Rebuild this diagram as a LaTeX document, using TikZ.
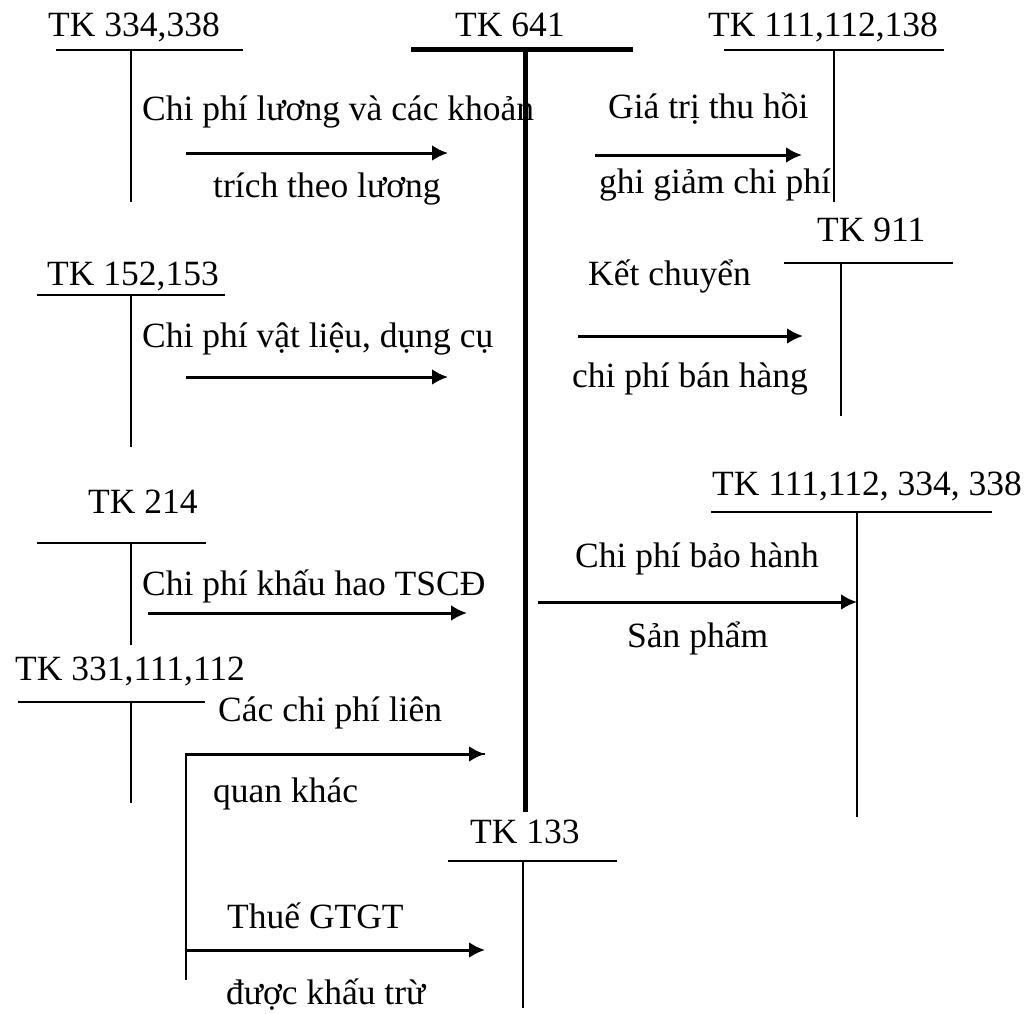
\documentclass[tikz,border=0pt]{standalone}
\usepackage{fontspec}
\setmainfont{Liberation Serif}
\usetikzlibrary{arrows.meta}
\begin{document}
\begin{tikzpicture}[x=1pt,y=-1pt,
    txt/.style={anchor=base west,inner sep=0pt,font=\fontsize{35.5}{42}\selectfont},
    tacc/.style={line width=1.3pt},
    mainacc/.style={line width=5pt},
    flow/.style={-{Latex[length=16pt,width=16pt]},line width=3pt}]
    \useasboundingbox (0,0) rectangle (1033,1014);
    % account headings
    \node[txt] (tk334) at (48,37) {TK 334,338};
    \node[txt] (tk641) at (455,37) {TK 641};
    \node[txt] (tk111a) at (708,37) {TK 111,112,138};
    \node[txt] (tk152) at (47,285) {TK 152,153};
    \node[txt] (tk911) at (817,241) {TK 911};
    \node[txt] (tk214) at (88,513) {TK 214};
    \node[txt] (tk331) at (15,680) {TK 331,111,112};
    \node[txt] (tk111b) at (712,495) {TK 111,112, 334, 338};
    \node[txt] (tk133) at (470,843) {TK 133};
    % T accounts
    \draw[tacc] (56,50) -- (243,50) (131,50) -- (131,202);
    \draw[mainacc] (411,50) -- (633,50) (525,50) -- (525,812);
    \draw[tacc] (724,50) -- (944,50) (834,50) -- (834,202);
    \draw[tacc] (37,295) -- (225,295) (131,295) -- (131,447);
    \draw[tacc] (784,263) -- (953,263) (841,263) -- (841,416);
    \draw[tacc] (37,543) -- (206,543) (131,543) -- (131,645);
    \draw[tacc] (18,702) -- (205,702) (131,702) -- (131,803);
    \draw[tacc] (711,512) -- (992,512) (857,512) -- (857,817);
    \draw[tacc] (448,861) -- (617,861) (523,861) -- (523,1008);
    % arrow ends
    \coordinate (luongS) at (186,153);  \coordinate (luongE) at (448,153);
    \coordinate (thuS) at (595,155);    \coordinate (thuE) at (802,155);
    \coordinate (vlS) at (186,377);     \coordinate (vlE) at (448,377);
    \coordinate (kcS) at (578,336);     \coordinate (kcE) at (803,336);
    \coordinate (khS) at (148,613);     \coordinate (khE) at (467,613);
    \coordinate (bhS) at (538,602);     \coordinate (bhE) at (857,602);
    \coordinate (khacS) at (186,980);   \coordinate (khacE) at (485,754);
    \coordinate (vatS) at (186,950);    \coordinate (vatE) at (485,950);
    \draw[flow] (luongS) -- (luongE);
    \draw[flow] (thuS) -- (thuE);
    \draw[flow] (vlS) -- (vlE);
    \draw[flow] (kcS) -- (kcE);
    \draw[flow] (khS) -- (khE);
    \draw[flow] (bhS) -- (bhE);
    \draw[tacc] (khacS) |- (khacE);
    \draw[flow] (khacS |- khacE) -- (khacE);
    \draw[flow] (vatS) -- (vatE);
    % labels
    \node[txt] (l1) at (142,121) {Chi phí lương và các khoản};
    \node[txt] (l2) at (213,197) {trích theo lương};
    \node[txt] (l3) at (608,119) {Giá trị thu hồi};
    \node[txt] (l4) at (599,193) {ghi giảm chi phí};
    \node[txt] (l5) at (142,347) {Chi phí vật liệu, dụng cụ};
    \node[txt] (l6) at (588,285) {Kết chuyển};
    \node[txt] (l7) at (572,387) {chi phí bán hàng};
    \node[txt] (l8) at (142,595) {Chi phí khấu hao TSCĐ};
    \node[txt] (l9) at (575,567) {Chi phí bảo hành};
    \node[txt] (l10) at (627,647) {Sản phẩm};
    \node[txt] (l11) at (218,721) {Các chi phí liên};
    \node[txt] (l12) at (213,802) {quan khác};
    \node[txt] (l13) at (227,928) {Thuế GTGT};
    \node[txt] (l14) at (226,1004) {được khấu trừ};
\end{tikzpicture}
\end{document}
